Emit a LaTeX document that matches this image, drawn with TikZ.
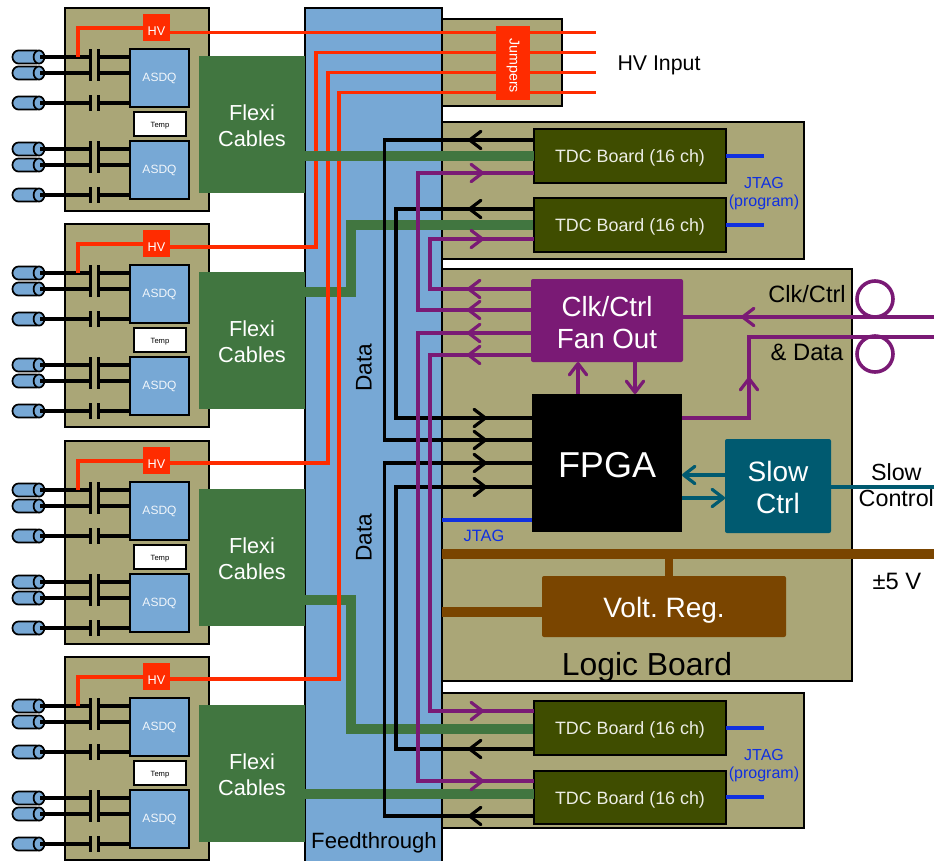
\documentclass[tikz,border=0pt]{standalone}
\usepackage{fontspec}
\setmainfont{Liberation Sans}
\usetikzlibrary{arrows.meta}
\definecolor{olive}{HTML}{AAA677}
\definecolor{ftblue}{HTML}{77A8D5}
\definecolor{flexi}{HTML}{417640}
\definecolor{tdc}{HTML}{3F4D00}
\definecolor{purp}{HTML}{7A1A75}
\definecolor{hvred}{HTML}{FF2C00}
\definecolor{brn}{HTML}{7A4500}
\definecolor{teal2}{HTML}{005A70}
\definecolor{jt}{HTML}{1030E0}
\newcommand\fs[2]{\fontsize{#1}{#2}\selectfont\frenchspacing}
\newcommand\extradrop{0pt}
\newcommand\tx[1]{\raisebox{\dimexpr-0.41em-0.3pt-\extradrop\relax}[0pt][0pt]{\begin{tabular}{@{}c@{}}#1\end{tabular}}}
% \bx{name}{x1}{y1}{x2}{y2}{style}{text}
\newcommand\bx[7]{\node[boxn,#6,minimum width={((#4)-(#2))*0.75pt},minimum height={((#5)-(#3))*0.75pt}] (#1) at ({((#2)+(#4))/2},{((#3)+(#5))/2}) {\tx{#7}};}
\tikzset{
  boxn/.style={inner sep=0pt,outer sep=0pt,text=white},
  lowertext/.style={execute at begin node={\def\extradrop{#1}}},
  panel/.style={fill=olive,draw=black,line width=0.9pt},
  asdq/.style={fill=ftblue,draw=black,line width=1pt,text=white!90!ftblue,lowertext=-1.2pt,font=\fs{9}{11}},
  temp/.style={fill=white,draw=black,line width=1pt,text=black,font=\fs{5.7}{7}},
  hvb/.style={fill=hvred,font=\fs{9.5}{11},lowertext=1.6pt},
  jumpb/.style={fill=hvred,font=\fs{10.7}{12}},
  flexib/.style={fill=flexi,font=\fs{16.3}{19.5}},
  tdcb/.style={fill=tdc,draw=black,line width=0.9pt,text=white!90!tdc,font=\fs{13.4}{15}},
  lab/.style={inner sep=0pt,outer sep=0pt,align=center,text=black},
  redw/.style={draw=hvred,line width=2.6pt,line join=miter},
  blk/.style={draw=black,line width=2.3pt},
  pur/.style={draw=purp,line width=2.3pt},
  grn/.style={draw=flexi,line width=7pt},
  tl/.style={draw=teal2,line width=2.3pt},
  bw/.style={draw=brn,line width=7.5pt},
  jl/.style={draw=jt,line width=2.3pt},
  barb/.style={-{Straight Barb[length=8.5pt,width=13pt,round,line width=2.4pt]}},
  wire/.style={draw=black,line width=2.6pt},
  plate/.style={draw=black,line width=2.2pt},
  cyl/.style={fill=ftblue,draw=black,line width=1.3pt}
}
\begin{document}
\begin{tikzpicture}[x=0.75pt,y=-0.75pt]
\useasboundingbox (0,0) rectangle (934,860);
\clip (0,0) rectangle (934,860);
% feedthrough and panels
\bx{feed}{305}{8}{442}{870}{fill=ftblue,draw=black,line width=0.9pt}{}
\bx{jpanel}{442}{19}{562}{106}{panel}{}
\bx{tpanel}{442}{122}{804}{259}{panel}{}
\bx{logic}{442}{269}{852}{681}{panel}{}
\bx{bpanel}{442}{693}{804}{828}{panel}{}
% front-end boards
\foreach \i/\o in {1/0,2/216,3/433,4/649}{
  \bx{board\i}{65}{8+\o}{209}{211+\o}{panel}{}
  \bx{asdqa\i}{130}{49+\o}{189}{107+\o}{asdq}{ASDQ}
  \bx{asdqb\i}{130}{141+\o}{189}{199+\o}{asdq}{ASDQ}
  \bx{temp\i}{134}{112+\o}{186}{136+\o}{temp}{Temp}
  \bx{hv\i}{143}{14+\o}{170}{41+\o}{hvb}{HV}
  \bx{flexi\i}{199}{56+\o}{305}{193+\o}{flexib}{Flexi\\Cables}
  \foreach \y/\a in {57/asdqa,73/asdqa,103/asdqa,149/asdqb,165/asdqb,195/asdqb}{
    \pgfmathsetmacro\yy{\y+\o}
    \draw[cyl,rounded corners=4.8pt] (12.5,\yy-6.6) rectangle (42,\yy+6.6);
    \filldraw[cyl] (39,\yy) ellipse[x radius=5.4,y radius=6.6];
    \coordinate (c\i\y) at (40,\yy);
    \coordinate (p\i\y) at (90.5,\yy);
    \coordinate (q\i\y) at (98.5,\yy);
    \draw[wire] (c\i\y) -- (p\i\y);
    \draw[wire] (q\i\y) -- (\a\i.west |- q\i\y);
    \draw[plate] (90.5,\yy-8) -- (90.5,\yy+8);
    \draw[plate] (98.5,\yy-8) -- (98.5,\yy+8);
  }
  \coordinate (tap\i) at (78,57+\o);
  \draw[redw] (tap\i) -- (78,28+\o) -- (hv\i.west |- 0,28+\o);
}
% green links that run under the high voltage lines
\draw[grn] (flexi2.east |- 0,292) -- (351,292) -- (351,225) -- (534,225);
\draw[grn] (flexi3.east |- 0,600) -- (351,600) -- (351,729) -- (534,729);
% high voltage
\coordinate (in1) at (596,32.5);
\coordinate (in2) at (596,52.5);
\coordinate (in3) at (596,72.5);
\coordinate (in4) at (596,92.5);
\draw[redw] (hv1.east |- in1) -- (in1);
\draw[redw] (hv2.east |- 0,247) -- (316,247) -- (316,52.5) -- (in2);
\draw[redw] (hv3.east |- 0,463) -- (328,463) -- (328,72.5) -- (in3);
\draw[redw] (hv4.east |- 0,679) -- (339,679) -- (339,92.5) -- (in4);
\bx{jump}{496}{26}{530}{100}{jumpb}{\raisebox{1.6pt}{\rotatebox[origin=c]{-90}{Jumpers}}\hspace{7.5pt}}
% main boxes
\bx{tdc1}{534}{129}{726}{183}{tdcb}{TDC Board (16 ch)}
\bx{tdc2}{534}{198}{726}{252}{tdcb}{TDC Board (16 ch)}
\bx{tdc3}{534}{701}{726}{755}{tdcb}{TDC Board (16 ch)}
\bx{tdc4}{534}{771}{726}{824}{tdcb}{TDC Board (16 ch)}
\bx{fan}{531}{279}{683}{362}{fill=purp,rounded corners=1.5pt,lowertext=0.8pt,font=\fs{20.8}{24}}{Clk/Ctrl\\Fan Out}
\bx{fpga}{532}{394}{682}{532}{fill=black,lowertext=-0.6pt,font=\fs{27}{32}}{FPGA}
\bx{slow}{725}{439}{831}{533}{fill=teal2,rounded corners=1.5pt,font=\fs{21}{24}}{Slow\\Ctrl}
\bx{volt}{542}{576}{786}{637}{fill=brn,rounded corners=1.5pt,font=\fs{21}{24}}{Volt. Reg.}
% green data links over the high voltage lines
\draw[grn] (flexi1.east |- tdc1.west) -- (tdc1.west);
\draw[grn] (flexi4.east |- 0,794) -- (tdc4.west |- 0,794);
% black data
\draw[blk] (tdc1.west |- 0,140) -- (384.5,140) -- (384.5,440) -- (fpga.west |- 0,440);
\draw[blk] (tdc2.west |- 0,209) -- (396,209) -- (396,418) -- (fpga.west |- 0,418);
\draw[blk] (tdc3.west |- 0,749) -- (396,749) -- (396,487) -- (fpga.west |- 0,487);
\draw[blk] (tdc4.west |- 0,816) -- (384.5,816) -- (384.5,463) -- (fpga.west |- 0,463);
\draw[blk,barb] (tdc1.west |- 0,140) -- (468,140);
\draw[blk,barb] (tdc2.west |- 0,209) -- (468,209);
\draw[blk,barb] (tdc3.west |- 0,749) -- (468,749);
\draw[blk,barb] (tdc4.west |- 0,816) -- (468,816);
\foreach \y in {418,440,463,487}{\draw[blk,barb] (396,\y) -- (487,\y);}
% purple clock
\draw[pur] (fan.west |- 0,289) -- (430,289) -- (430,239) -- (tdc2.west |- 0,239);
\draw[pur] (fan.west |- 0,310) -- (418,310) -- (418,173) -- (tdc1.west |- 0,173);
\draw[pur] (fan.west |- 0,333) -- (418,333) -- (418,781) -- (tdc4.west |- 0,781);
\draw[pur] (fan.west |- 0,355) -- (430,355) -- (430,711) -- (tdc3.west |- 0,711);
\foreach \y in {289,310,333,355}{\draw[pur,barb] (fan.west |- 0,\y) -- (467,\y);}
\draw[pur,barb] (430,239) -- (484,239);
\draw[pur,barb] (418,173) -- (484,173);
\draw[pur,barb] (418,781) -- (484,781);
\draw[pur,barb] (430,711) -- (484,711);
\draw[pur,barb] (fpga.north -| 578,0) -- (fan.south -| 578,0);
\draw[pur,barb] (fan.south -| 635,0) -- (fpga.north -| 635,0);
\coordinate (clkin) at (936,317);
\coordinate (datout) at (936,337);
\draw[pur] (clkin) -- (fan.east |- clkin);
\draw[pur,barb] (clkin) -- (741,317);
\draw[pur] (fpga.east |- 0,418) -- (749,418) -- (749,337) -- (datout);
\draw[pur,barb] (fpga.east |- 0,418) -- (749,418) -- (749,377);
\node[draw=purp,line width=2.7pt,circle,minimum size=27pt,inner sep=0pt] (ring1) at (875,299) {};
\node[draw=purp,line width=2.7pt,circle,minimum size=27pt,inner sep=0pt] (ring2) at (875,354) {};
% slow control
\draw[tl,barb] (slow.west |- 0,475) -- (fpga.east |- 0,475);
\draw[tl,barb] (fpga.east |- 0,498) -- (slow.west |- 0,498);
\coordinate (slowout) at (936,487);
\draw[tl] (slow.east |- slowout) -- (slowout);
% power
\coordinate (pwr) at (936,554);
\draw[bw] (logic.west |- pwr) -- (pwr);
\draw[bw,line width=6.5pt] (volt.north -| 669,0) -- (669,554);
\draw[bw] (logic.west |- 0,612) -- (volt.west |- 0,612);
% JTAG
\coordinate (j1) at (764,156);
\coordinate (j2) at (764,225);
\coordinate (j3) at (764,728);
\coordinate (j4) at (764,797);
\draw[jl] (tdc1.east |- j1) -- (j1);
\draw[jl] (tdc2.east |- j2) -- (j2);
\draw[jl] (tdc3.east |- j3) -- (j3);
\draw[jl] (tdc4.east |- j4) -- (j4);
\draw[jl] (logic.west |- 0,520) -- (fpga.west |- 0,520);
% labels
\node[lab,font=\fs{16}{18}] (hvin) at (659,65) {HV Input};
\node[lab,font=\fs{17}{18},rotate=90] (d1) at (364,368) {Data};
\node[lab,font=\fs{17}{18},rotate=90] (d2) at (364,538) {Data};
\node[lab,font=\fs{16.6}{18}] (ft) at (374,843) {Feedthrough};
\node[lab,font=\fs{23.9}{26}] (lb) at (647,667) {Logic Board};
\node[lab,font=\fs{17.7}{18}] (cl) at (807,294) {Clk/Ctrl};
\node[lab,font=\fs{17.8}{18}] (dl) at (807,352) {\&\ Data};
\node[lab,font=\fs{17.5}{19.5}] (sl) at (896.3,485) {Slow\\Control};
\node[lab,font=\fs{17.8}{18}] (pm) at (897,581) {±5 V};
\node[lab,text=jt,font=\fs{12}{13.5}] (jt1) at (764,194) {JTAG\\(program)};
\node[lab,text=jt,font=\fs{12}{13.5}] (jt2) at (764,766) {JTAG\\(program)};
\node[lab,text=jt,font=\fs{12.3}{13}] (jt3) at (484,536) {JTAG};
\end{tikzpicture}
\end{document}
